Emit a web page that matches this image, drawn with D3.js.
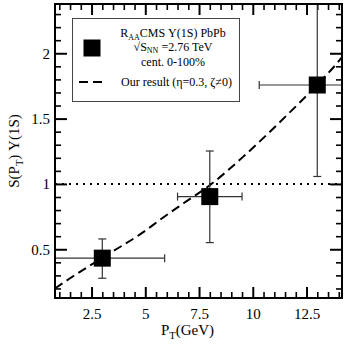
<!DOCTYPE html>
<html>
<head>
<meta charset="utf-8">
<script src="https://cdn.jsdelivr.net/npm/d3@7"></script>
<style>
  body { margin: 0; background: #fff; }
  svg { display: block; font-family: "Liberation Serif", "Times New Roman", serif; }
  .axis path { display: none; }
  .axis line { stroke: #000; }
  .axis text { font-family: "Liberation Serif", "Times New Roman", serif; fill: #000; }
</style>
</head>
<body>
<svg id="chart" width="346" height="346"></svg>
<script>
// CMS points (pT, S(pT), errors)
var ptPoints = [3, 8, 13];
var raaPoints = [0.432, 0.903, 1.757];
var ptErr = [2.9, 1.5, 2.7];
var raaErrUp = [0.147, 0.349, 0.70];
var raaErrDown = [0.154, 0.352, 0.70];

// dashed curve
var curvePt = [0.8, 1.5, 3, 4.94, 5.68, 6.78, 8, 9.6, 11.3, 13, 13.9, 14.15];
var curveS = [0.20, 0.278, 0.435, 0.635, 0.725, 0.852, 0.99, 1.215, 1.48, 1.76, 1.92, 1.97];

var xMajor = [2.5, 5, 7.5, 10, 12.5];
var xMinor = d3.range(1, 14.01, 0.5);
var yMajor = [0.5, 1, 1.5, 2];
var yMinor = d3.range(0.2, 2.31, 0.1);

var svg = d3.select("#chart");
var plot = {"x" : 55, "y" : 4, "width" : 287, "height" : 294};

var x = d3.scaleLinear().domain([0.8, 14.15]).range([plot.x, plot.x + plot.width]);
var y = d3.scaleLinear().domain([0.127, 2.377]).range([plot.y + plot.height, plot.y]);

svg.append("defs").append("clipPath").attr("id", "clip")
    .append("rect")
    .attr("x", plot.x)
    .attr("y", plot.y)
    .attr("width", plot.width)
    .attr("height", plot.height);

// minor ticks, all four sides
function minorAxis(axis, vals, tx, ty) {
    svg.append("g")
        .attr("class", "axis")
        .attr("transform", "translate(" + tx + "," + ty + ")")
        .call(axis.tickValues(vals).tickSize(-6).tickFormat(""))
        .selectAll("line").attr("stroke-width", 1.6);
}
var xMinorVals = xMinor.filter(function(v) { return xMajor.indexOf(v) < 0; });
var yMinorVals = yMinor.filter(function(v) {
    return !yMajor.some(function(m) { return Math.abs(m - v) < 1e-6; });
});
minorAxis(d3.axisBottom(x), xMinorVals, 0, plot.y + plot.height);
minorAxis(d3.axisTop(x), xMinorVals, 0, plot.y);
minorAxis(d3.axisLeft(y), yMinorVals, plot.x, 0);
minorAxis(d3.axisRight(y), yMinorVals, plot.x + plot.width, 0);

// major ticks
svg.append("g")
    .attr("class", "axis")
    .attr("transform", "translate(0," + (plot.y + plot.height) + ")")
    .call(d3.axisBottom(x).tickValues(xMajor).tickSize(-11).tickPadding(10).tickFormat(d3.format("")))
    .call(function(g) {
        g.selectAll("line").attr("stroke-width", 2);
        g.selectAll("text").attr("font-size", 15);
    });
svg.append("g")
    .attr("class", "axis")
    .attr("transform", "translate(0," + plot.y + ")")
    .call(d3.axisTop(x).tickValues(xMajor).tickSize(-11).tickFormat(""))
    .selectAll("line").attr("stroke-width", 2);
svg.append("g")
    .attr("class", "axis")
    .attr("transform", "translate(" + plot.x + ",0)")
    .call(d3.axisLeft(y).tickValues(yMajor).tickSize(-12).tickPadding(5).tickFormat(d3.format("")))
    .call(function(g) {
        g.selectAll("line").attr("stroke-width", 2);
        g.selectAll("text").attr("font-size", 15);
    });
svg.append("g")
    .attr("class", "axis")
    .attr("transform", "translate(" + (plot.x + plot.width) + ",0)")
    .call(d3.axisRight(y).tickValues(yMajor).tickSize(-12).tickFormat(""))
    .selectAll("line").attr("stroke-width", 2);

var inner = svg.append("g").attr("clip-path", "url(#clip)");

// y = 1 reference line
inner.append("line")
    .attr("x1", plot.x)
    .attr("x2", plot.x + plot.width)
    .attr("y1", y(1))
    .attr("y2", y(1))
    .attr("stroke", "#000")
    .attr("stroke-width", 2)
    .attr("stroke-dasharray", "2,5");

// dashed model curve
var line = d3.line()
    .x(function(d, i) { return x(curvePt[i]); })
    .y(function(d, i) { return y(curveS[i]); })
    .curve(d3.curveMonotoneX);
inner.append("path")
    .datum(curvePt)
    .attr("d", line)
    .attr("fill", "none")
    .attr("stroke", "#000")
    .attr("stroke-width", 2)
    .attr("stroke-dasharray", "9,5");

// error bars + squares
var cap = 4;
for (var i in ptPoints) {
    var cx = x(ptPoints[i]), cy = y(raaPoints[i]);
    var g = inner.append("g").attr("stroke", "#333").attr("stroke-width", 1.2);
    var x0 = x(ptPoints[i] - ptErr[i]), x1 = x(ptPoints[i] + ptErr[i]);
    var y0 = y(raaPoints[i] - raaErrDown[i]), y1 = y(raaPoints[i] + raaErrUp[i]);
    g.append("line").attr("x1", x0).attr("x2", x1).attr("y1", cy).attr("y2", cy);
    g.append("line").attr("x1", x0).attr("x2", x0).attr("y1", cy - cap).attr("y2", cy + cap);
    g.append("line").attr("x1", x1).attr("x2", x1).attr("y1", cy - cap).attr("y2", cy + cap);
    g.append("line").attr("x1", cx).attr("x2", cx).attr("y1", y0).attr("y2", y1);
    g.append("line").attr("x1", cx - cap).attr("x2", cx + cap).attr("y1", y0).attr("y2", y0);
    g.append("line").attr("x1", cx - cap).attr("x2", cx + cap).attr("y1", y1).attr("y2", y1);

    inner.append("rect")
        .attr("x", cx - 8.5)
        .attr("y", cy - 8.5)
        .attr("width", 17)
        .attr("height", 17)
        .attr("fill", "#000");
}

// frame
svg.append("rect")
    .attr("x", plot.x)
    .attr("y", plot.y)
    .attr("width", plot.width)
    .attr("height", plot.height)
    .attr("fill", "none")
    .attr("stroke", "#000")
    .attr("stroke-width", 2);

// legend
var legend = svg.append("g").attr("font-size", 12);
legend.append("rect")
    .attr("x", 72.5)
    .attr("y", 18.5)
    .attr("width", 167)
    .attr("height", 83)
    .attr("fill", "#fff")
    .attr("stroke", "#444")
    .attr("stroke-width", 1);
legend.append("rect")
    .attr("x", 83.5)
    .attr("y", 39.5)
    .attr("width", 17)
    .attr("height", 17)
    .attr("fill", "#000");

var t1 = legend.append("text").attr("x", 173).attr("y", 37).attr("text-anchor", "middle");
t1.append("tspan").text("R");
t1.append("tspan").attr("font-size", 8).attr("dy", 2.5).text("AA");
t1.append("tspan").attr("dy", -2.5).text("CMS Υ(1S) PbPb");

var t2 = legend.append("text").attr("x", 173).attr("y", 51).attr("text-anchor", "middle");
t2.append("tspan").text("√S");
t2.append("tspan").attr("font-size", 8).attr("dy", 2).text("NN");
t2.append("tspan").attr("dy", -2).text(" =2.76 TeV");

legend.append("text").attr("x", 173).attr("y", 65.5).attr("text-anchor", "middle").text("cent. 0-100%");

legend.append("line")
    .attr("x1", 79)
    .attr("x2", 106)
    .attr("y1", 82)
    .attr("y2", 82)
    .attr("stroke", "#000")
    .attr("stroke-width", 2)
    .attr("stroke-dasharray", "9,5");
legend.append("text").attr("x", 121).attr("y", 86).text("Our result (η=0.3, ζ≠0)");

// axis titles
var xt = svg.append("text").attr("x", 161).attr("y", 335).attr("font-size", 15);
xt.append("tspan").text("P");
xt.append("tspan").attr("font-size", 10.5).attr("dy", 4).text("T");
xt.append("tspan").attr("dy", -4).text("(GeV)");

var yt = svg.append("text")
    .attr("transform", "translate(19," + (plot.y + plot.height / 2) + ") rotate(-90)")
    .attr("text-anchor", "middle")
    .attr("font-size", 15);
yt.append("tspan").text("S(P");
yt.append("tspan").attr("font-size", 10.5).attr("dy", 4).text("T");
yt.append("tspan").attr("dy", -4).text(") Υ(1S)");
</script>
</body>
</html>
